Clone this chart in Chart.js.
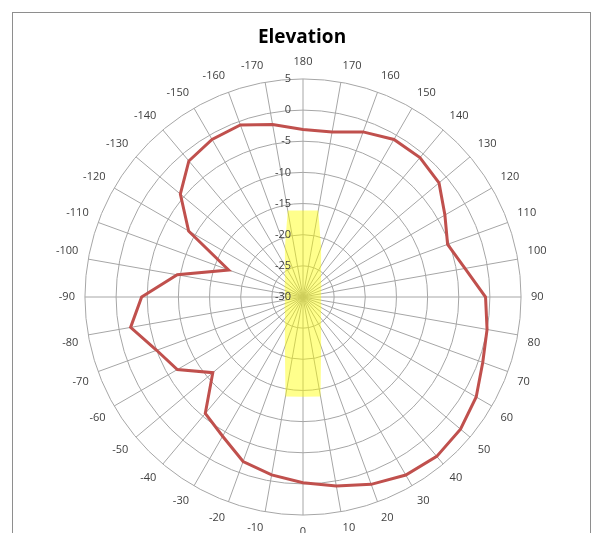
<!DOCTYPE html>
<html>
<head>
<meta charset="utf-8">
<script src="https://cdn.jsdelivr.net/npm/chart.js@4"></script>
<style>
  html, body { margin: 0; padding: 0; background: #fff; overflow: hidden; }
  #frame { position: absolute; left: 12px; top: 12px; width: 577px; height: 600px; border: 1px solid #8e8e8e; }
  #elev { position: absolute; left: 0; top: 0; }
</style>
</head>
<body>
<div id="frame"></div>
<canvas id="elev" width="596" height="545"></canvas>
<script>
// --- DATOS ---
// angulos en el orden de la grafica (arriba = 180, sentido horario)
const angleLabels = [
    '180','170','160','150','140','130','120','110','100','90',
    '80','70','60','50','40','30','20','10','0',
    '-10','-20','-30','-40','-50','-60','-70','-80','-90',
    '-100','-110','-120','-130','-140','-150','-160','-170'
];

// nivel medido (dB)
const elevationValues = [
    -3.1, -3.1, -1.8, -0.8, -0.8, -1.5, -3.7, -5.3, -3.6, -0.7,
    0.0, 0.7, 2.1, 3.0, 3.4, 3.0, 2.0, 0.8, -0.2,
    -1.0, -1.9, -4.2, -5.6, -11.1, -6.7, -5.0, -1.9, -4.1,
    -9.5, -17.3, -8.8, -4.3, -1.5, -0.8, -0.6, -1.9
];

// zona amarilla (franja vertical)
const bandValues = [
    -16.1, -15.9, -21.5, -24.2, -25.5, -26.2, -26.6, -26.9, -27.05, -27.1,
    -27.05, -26.9, -26.6, -26.2, -25.5, -24.2, -21.5, -13.8, -14.0,
    -13.8, -21.5, -24.2, -25.5, -26.2, -26.6, -26.9, -27.05, -27.1,
    -27.05, -26.9, -26.6, -26.2, -25.5, -24.2, -21.5, -15.9
];

const radialTicks = [-30, -25, -20, -15, -10, -5, 0, 5];

// etiquetas del eje radial a la izquierda del eje vertical
const tickLabelPlugin = {
    id: 'tickLabels',
    afterDatasetsDraw(chart) {
        const r = chart.scales.r;
        const ctx = chart.ctx;
        ctx.save();
        ctx.font = '11px "Open Sans"';
        ctx.fillStyle = '#404040';
        ctx.textAlign = 'right';
        ctx.textBaseline = 'middle';
        r.ticks.forEach(t => {
            const d = r.getDistanceFromCenterForValue(t.value);
            ctx.fillText(String(t.value), r.xCenter - 12, r.yCenter - d);
        });
        ctx.restore();
    }
};

const ctx = document.getElementById('elev').getContext('2d');
new Chart(ctx, {
    type: 'radar',
    data: {
        labels: angleLabels,
        datasets: [{
            label: 'Elevation',
            data: elevationValues,
            borderColor: '#c0504d',
            borderWidth: 3,
            fill: false,
            pointRadius: 0
        }, {
            label: 'Band',
            data: bandValues,
            borderWidth: 0,
            backgroundColor: 'rgba(255, 255, 0, 0.45)',
            fill: 'start',
            pointRadius: 0
        }]
    },
    options: {
        responsive: false,
        animation: false,
        devicePixelRatio: 1,
        layout: { padding: { left: 55, right: 47, top: 0, bottom: 0 } },
        elements: { line: { tension: 0 } },
        plugins: {
            legend: { display: false },
            tooltip: { enabled: false },
            title: {
                display: true,
                text: 'Elevation',
                color: '#000',
                font: { family: 'Open Sans', size: 19, weight: 'bold' },
                padding: { top: 26, bottom: 2 }
            }
        },
        scales: {
            r: {
                min: radialTicks[0],
                max: radialTicks[radialTicks.length - 1],
                ticks: { display: false, stepSize: 5 },
                grid: { circular: true, color: '#a6a6a6', lineWidth: 1 },
                angleLines: { color: '#a6a6a6', lineWidth: 1 },
                pointLabels: {
                    font: { family: 'Open Sans', size: 11 },
                    color: '#404040',
                    padding: 10
                }
            }
        }
    },
    plugins: [tickLabelPlugin]
});
</script>
</body>
</html>
